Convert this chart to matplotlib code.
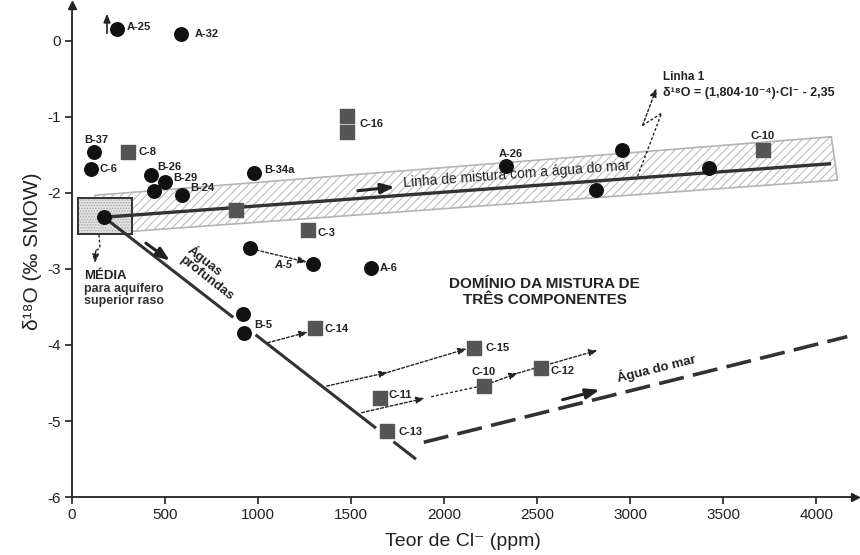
import matplotlib.pyplot as plt
from matplotlib.patches import Polygon, Rectangle

# Amostras (círculos)
circ_x = [242, 585, 118, 102, 424, 499, 441, 592, 979, 173, 2330, 2953, 2813,
          3421, 956, 1294, 1604, 918, 924]
circ_y = [0.16, 0.09, -1.46, -1.68, -1.76, -1.86, -1.97, -2.03, -1.74, -2.32,
          -1.64, -1.43, -1.96, -1.67, -2.73, -2.93, -2.99, -3.59, -3.84]
circ_lab = ["A-25", "A-32", "B-37", "C-6", "B-26", "B-29", "", "B-24", "B-34a",
            "", "A-26", "", "", "", "", "", "A-6", "", "B-5"]

# Amostras (quadrados)
sq_x = [300, 880, 1477, 1477, 1266, 3711, 1305, 2160, 2518, 2213, 1654, 1692]
sq_y = [-1.46, -2.22, -0.99, -1.20, -2.49, -1.43, -3.78, -4.04, -4.30, -4.54,
        -4.70, -5.13]
sq_lab = ["C-8", "", "", "C-16", "C-3", "C-10", "C-14", "C-15", "C-12", "C-10",
          "C-11", "C-13"]

x_ticks = [0, 500, 1000, 1500, 2000, 2500, 3000, 3500, 4000]
y_ticks = [-6, -5, -4, -3, -2, -1, 0]

# Linha 1: d18O = 1,804e-4 * Cl - 2,35
slope, intercept = 1.804e-4, -2.35
mix_x = [173, 4070]

# Águas profundas
deep_x = [173, 1842]
deep_y = [-2.32, -5.49]

# Água do mar
sea_x = [1890, 4166]
sea_y = [-5.28, -3.89]

# deslocamento dos rótulos (pixels)
circ_off = {"A-25": (10, 2, "left"), "A-32": (14, 0, "left"), "B-37": (2, 12, "center"),
            "C-6": (9, 0, "left"), "B-26": (6, 8, "left"), "B-29": (8, 4, "left"),
            "B-24": (8, 7, "left"), "B-34a": (10, 3, "left"), "A-26": (5, 12, "center"),
            "A-6": (9, 0, "left"), "B-5": (10, 8, "left")}
sq_off = {"C-8": (11, 0, "left"), "C-16": (13, 8, "left"), "C-3": (10, -3, "left"),
          "C-10": (0, 14, "center"), "C-14": (10, -1, "left"), "C-15": (12, 0, "left"),
          "C-12": (10, -3, "left"), "C-11": (9, 3, "left"), "C-13": (12, -1, "left")}

narrow = ["Liberation Sans Narrow", "Liberation Sans", "DejaVu Sans"]
plt.rcParams["font.family"] = ["Liberation Sans", "DejaVu Sans"]
plt.rcParams["hatch.linewidth"] = 0.7

ink = "#222222"

fig = plt.figure(figsize=(8.6, 5.55), dpi=100)
ax = fig.add_axes([0.0837, 0.1045, 0.910, 0.886])
ax.set_xlim(0, 4205)
ax.set_ylim(-6, 0.47)

# faixa hachurada em torno da linha de mistura
band = Polygon([(124, -2.03), (4080, -1.26), (4113, -1.83), (124, -2.54)],
               closed=True, facecolor="white", edgecolor="#b4b4b4", hatch="////",
               lw=1.2, zorder=1)
ax.add_patch(band)

# caixa da média
ax.add_patch(Rectangle((32, -2.54), 290, 0.47, facecolor="#e2e2e2",
                       edgecolor="#aaaaaa", hatch="......", lw=0, zorder=2))
ax.add_patch(Rectangle((32, -2.54), 290, 0.47, facecolor="none",
                       edgecolor="#333333", lw=1.4, zorder=3))

# linha de mistura
ax.plot(mix_x, [slope * v + intercept for v in mix_x], color="#333333", lw=2.4, zorder=3)


# linha das águas profundas (com interrupções)
def deep_at(x):
    return deep_y[0] + (deep_y[1] - deep_y[0]) * (x - deep_x[0]) / (deep_x[1] - deep_x[0])


for a, b in [(deep_x[0], 860), (993, 1627), (1734, deep_x[1])]:
    ax.plot([a, b], [deep_at(a), deep_at(b)], color="#333333", lw=2.2, zorder=3)

# água do mar (tracejada)
ax.plot(sea_x, sea_y, color="#333333", lw=2.6, dashes=(7, 2.6), zorder=3)

# setas pontilhadas
dot = dict(arrowstyle="-|>,head_length=0.5,head_width=0.2", color=ink,
           lw=1.0, linestyle=(0, (2, 1.5)), shrinkA=0, shrinkB=0)


def dotted_arrow(p0, p1):
    ax.annotate("", xy=p1, xytext=p0, arrowprops=dot, zorder=4)


dotted_arrow((990, -2.75), (1262, -2.91))
dotted_arrow((1052, -3.97), (1267, -3.83))
dotted_arrow((1369, -4.54), (1697, -4.36))
dotted_arrow((1697, -4.36), (2121, -4.05))
dotted_arrow((1557, -4.89), (1895, -4.70))
ax.plot([1930, 2180], [-4.68, -4.55], color=ink, lw=1.0, ls=(0, (2, 1.5)))
dotted_arrow((2250, -4.50), (2395, -4.37))
dotted_arrow((2395, -4.37), (2824, -4.07))

# ponteiro da média
ax.plot([145, 150, 128], [-2.55, -2.72, -2.76], color=ink, lw=1.0,
        ls=(0, (2, 1.5)))
dotted_arrow((128, -2.76), (123, -2.92))

# ponteiro da Linha 1
ax.plot([3039, 3168, 3066], [-1.78, -0.95, -1.11], color=ink, lw=1.0,
        ls=(0, (2, 1.5)))
dotted_arrow((3066, -1.11), (3141, -0.62))

# seta de A-25 (valor acima)
ax.annotate("", xy=(188, 0.36), xytext=(188, 0.1),
            arrowprops=dict(arrowstyle="-|>,head_length=0.5,head_width=0.2",
                            color=ink, lw=1.2, shrinkA=0, shrinkB=0))

# setas de sentido
solid = dict(arrowstyle="-|>,head_length=0.8,head_width=0.3", color=ink,
             lw=2.2, shrinkA=0, shrinkB=0)
ax.annotate("", xy=(1734, -1.92), xytext=(1536, -1.97), arrowprops=solid)
ax.annotate("", xy=(526, -2.89), xytext=(397, -2.66), arrowprops=solid)
ax.annotate("", xy=(2835, -4.59), xytext=(2636, -4.72), arrowprops=solid)

# pontos
ax.scatter(circ_x, circ_y, s=95, marker="o", color="#111111", zorder=5)
ax.scatter(sq_x, sq_y, s=100, marker="s", color="#555555", zorder=5)

lab_kw = dict(textcoords="offset pixels", va="center", fontsize=8,
              fontweight="bold", color=ink, zorder=6)
for x, y, t in zip(circ_x, circ_y, circ_lab):
    if t:
        dx, dy, ha = circ_off[t]
        ax.annotate(t, (x, y), xytext=(dx, dy), ha=ha, **lab_kw)
for x, y, t in zip(sq_x, sq_y, sq_lab):
    if t:
        dx, dy, ha = sq_off[t]
        ax.annotate(t, (x, y), xytext=(dx, dy), ha=ha, **lab_kw)

ax.text(1133, -2.95, "A-5", style="italic", fontweight="bold", fontsize=8,
        ha="center", va="center", color=ink)

# textos
ax.text(3173, -0.47, "Linha 1", fontsize=8.5, fontweight="bold", va="center",
        color=ink)
ax.text(3173, -0.68, "δ¹⁸O = (1,804·10⁻⁴)·Cl⁻ - 2,35", fontsize=9,
        fontweight="bold", va="center", color=ink)
ax.text(2390, -1.76, "Linha de mistura com a água do mar", fontsize=10,
        rotation=4.4, rotation_mode="anchor", ha="center", va="center",
        color=ink)
deep_txt = dict(fontsize=9.5, fontweight="bold", rotation=-38,
                rotation_mode="anchor", ha="center", va="center", color=ink)
ax.text(713, -2.89, "Águas", **deep_txt)
ax.text(722, -3.12, "profundas", **deep_txt)
ax.text(3140, -4.30, "Água do mar", fontsize=9.5, fontweight="bold",
        rotation=13.9, rotation_mode="anchor", ha="center", va="center",
        color=ink)
ax.text(2540, -3.30, "DOMÍNIO DA MISTURA DE\nTRÊS COMPONENTES", fontsize=11,
        fontweight="bold", ha="center", va="center", linespacing=1.15,
        color=ink)
ax.text(65, -3.09, "MÉDIA", fontsize=9.5, fontweight="bold", va="center",
        color=ink)
ax.text(65, -3.19, "para aquífero\nsuperior raso", fontsize=9, fontweight="bold",
        va="top", linespacing=1.0, color="#333333")

# eixos com setas
for side in ("top", "right"):
    ax.spines[side].set_visible(False)
for side in ("left", "bottom"):
    ax.spines[side].set_linewidth(1.3)
    ax.spines[side].set_color(ink)
ax.plot(1, 0, ">", color=ink, ms=6, transform=ax.transAxes, clip_on=False)
ax.plot(0, 1, "^", color=ink, ms=6, transform=ax.transAxes, clip_on=False)

ax.set_xticks(x_ticks)
ax.set_yticks(y_ticks)
ax.set_xticklabels([str(v) for v in x_ticks], family=narrow, fontsize=11)
ax.set_yticklabels([str(v) for v in y_ticks], family=narrow, fontsize=11)
ax.tick_params(direction="out", length=5, width=1.2, color=ink,
               labelcolor=ink, pad=3)

ax.set_xlabel("Teor de Cl⁻ (ppm)", family=narrow, fontsize=14, color=ink,
              labelpad=8)
ax.set_ylabel("δ¹⁸O (‰ SMOW)", family=narrow, fontsize=15, color=ink,
              labelpad=4)

fig.savefig("out.png", dpi=100)
